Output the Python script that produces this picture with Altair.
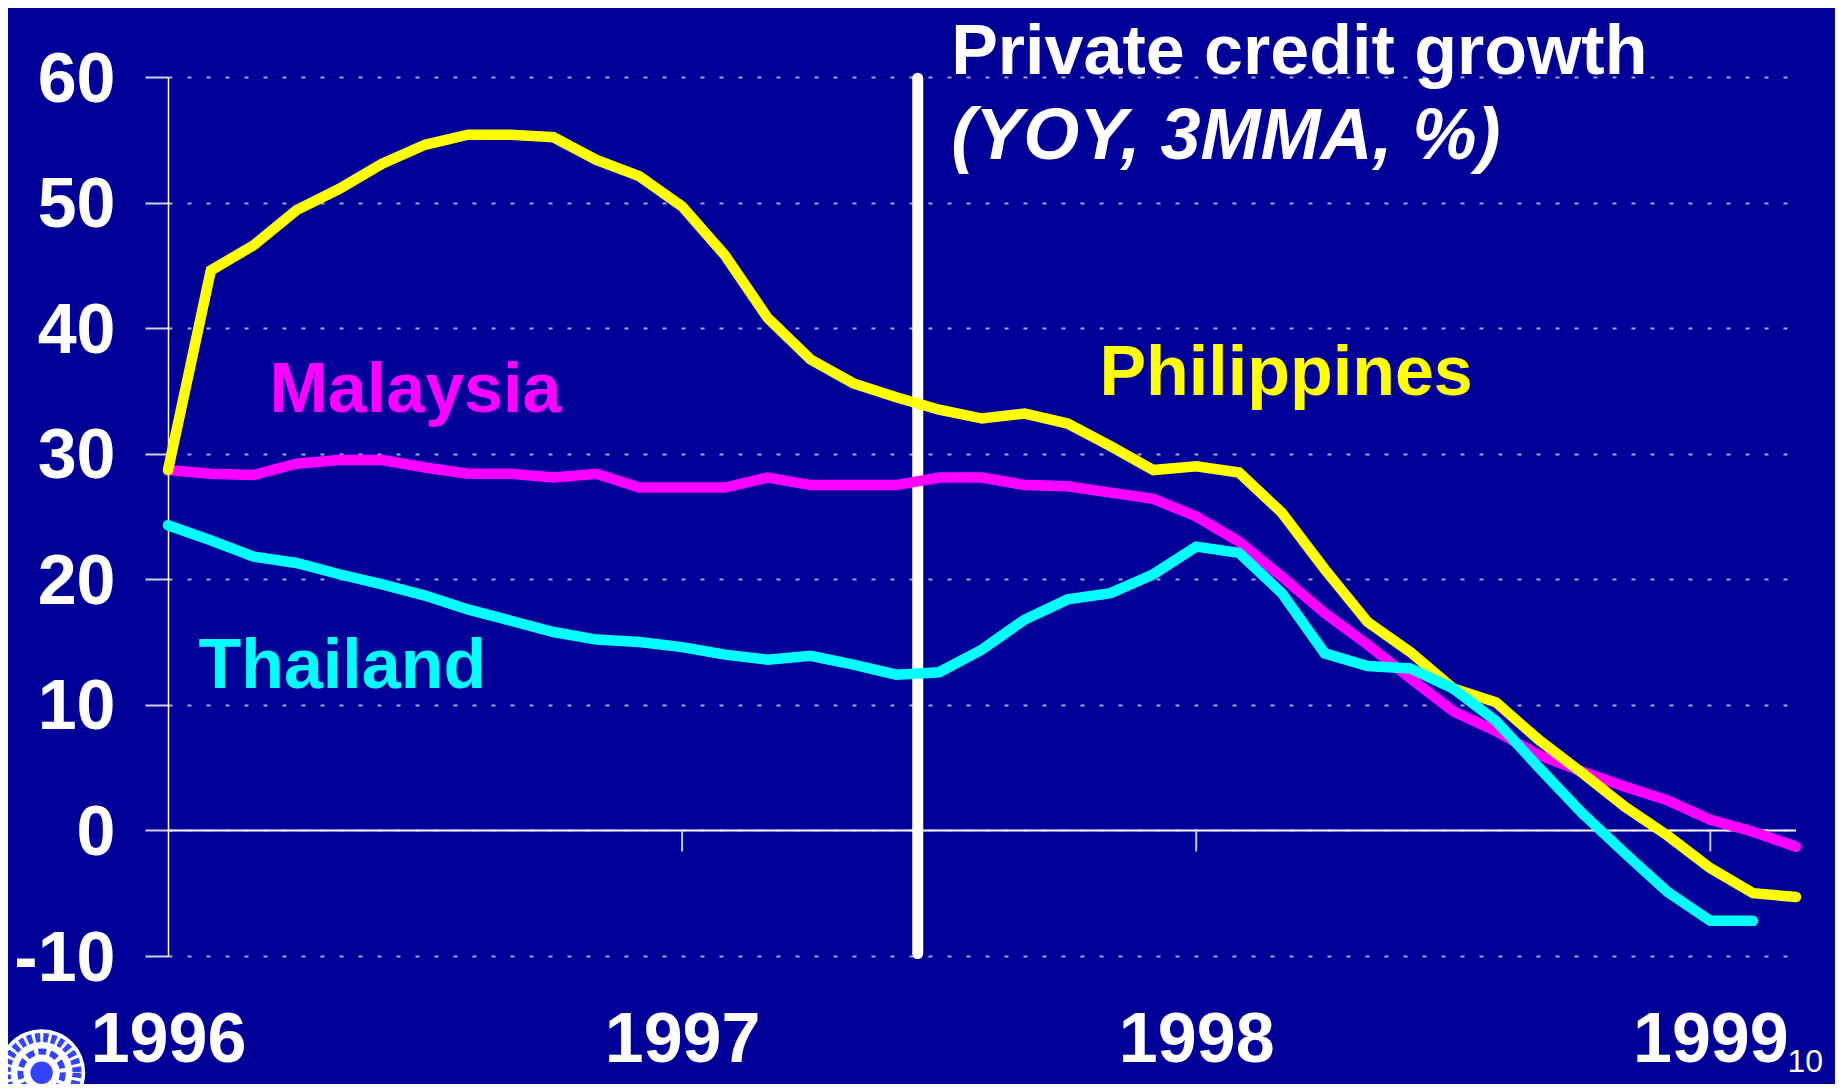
import altair as alt
import pandas as pd

# ---------------- data ----------------
months = list(range(39))               # 0 = Jan 1996 ... 38 = Mar 1999
year_months = [0, 12, 24, 36]
y_ticks = [-10, 0, 10, 20, 30, 40, 50, 60]

countries = ["Malaysia", "Philippines", "Thailand"]
colors = ["#FF00FF", "#FFFF00", "#00FFFF"]

malaysia = [28.7, 28.4, 28.3, 29.2, 29.5, 29.5, 28.9, 28.4, 28.4, 28.1,
            28.4, 27.3, 27.3, 27.3, 28.1, 27.5, 27.5, 27.5, 28.1, 28.1,
            27.5, 27.4, 26.9, 26.4, 25.0, 23.0, 20.2, 17.3, 14.8, 12.1,
            9.5, 7.9, 6.0, 4.7, 3.5, 2.4, 0.85, -0.1, -1.3]
philippines = [28.7, 44.6, 46.6, 49.4, 51.1, 53.1, 54.6, 55.4, 55.4, 55.2,
               53.4, 52.1, 49.7, 45.8, 40.8, 37.5, 35.6, 34.5, 33.5, 32.8,
               33.2, 32.4, 30.6, 28.7, 29.0, 28.5, 25.3, 20.8, 16.6, 14.2,
               11.3, 10.2, 7.2, 4.6, 1.9, -0.4, -3.0, -5.0, -5.3]
thailand = [24.3, 23.1, 21.8, 21.3, 20.4, 19.6, 18.7, 17.6, 16.7, 15.8,
            15.2, 15.0, 14.6, 14.0, 13.6, 13.9, 13.2, 12.4, 12.6, 14.4,
            16.8, 18.4, 18.9, 20.4, 22.6, 22.1, 18.9, 14.1, 13.1, 12.9,
            11.3, 8.7, 5.0, 1.4, -1.8, -4.9, -7.2, -7.2]

label_text = ["Malaysia", "Philippines", "Thailand"]
label_x = [2.37, 21.74, 0.71]
label_y = [33.3, 34.7, 11.36]

title_text = "Private credit growth"
subtitle_text = "(YOY, 3MMA, %)"
title_x = 18.28
title_y = 60.25
subtitle_y = 53.5

event_month = 17.5
slide_number = "10"

# ---------------- tables ----------------
rows = []
for name, series in zip(countries, [malaysia, philippines, thailand]):
    for m, v in zip(months, series):
        rows.append({"month": m, "value": v, "country": name})
df = pd.DataFrame(rows)

labels_df = pd.DataFrame({"x": label_x, "y": label_y, "text": label_text,
                          "country": label_text})

FONT = "Liberation Sans"
BG = "#000099"
W, H = 1628, 879

xs = alt.Scale(domain=[0, 38], nice=False, zero=False)
ys = alt.Scale(domain=[-10, 60], nice=False, zero=False)
cs = alt.Scale(domain=countries, range=colors)

X_AXIS = alt.Axis(values=year_months,
                  labelExpr="'' + (1996 + datum.value / 12)",
                  domain=False, ticks=False, grid=False,
                  labelFont=FONT, labelFontSize=70, labelFontWeight="bold",
                  labelColor="white", labelBaseline="alphabetic",
                  labelPadding=105, labelFlush=False, labelOverlap=False)
Y_AXIS = alt.Axis(values=y_ticks, labelExpr="'' + datum.value",
                  domain=True, domainColor="white",
                  domainWidth=1.5, ticks=True, tickSize=23,
                  tickColor="#d0d0e0", tickWidth=2,
                  grid=True, gridColor="#a8a8c8", gridWidth=2,
                  gridDash=[4, 15],
                  labelFont=FONT, labelFontSize=70, labelFontWeight="bold",
                  labelColor="white", labelPadding=30, labelOffset=3,
                  labelFlush=False, labelOverlap=False)


def X(field):
    return alt.X(field, scale=xs, axis=X_AXIS, title=None)


def Y(field):
    return alt.Y(field, scale=ys, axis=Y_AXIS, title=None)


lines = alt.Chart(df).mark_line(strokeWidth=10.5, strokeCap="round").encode(
    x=X("month:Q"),
    y=Y("value:Q"),
    color=alt.Color("country:N", scale=cs, legend=None),
    order=alt.Order("month:Q"),
)

zero_line = alt.Chart(pd.DataFrame({"x0": [0], "x1": [38], "y": [0]})).mark_rule(
    color="white", strokeWidth=2).encode(x=X("x0:Q"), x2="x1:Q", y=Y("y:Q"))

x_ticks = alt.Chart(pd.DataFrame({"m": year_months[1:], "y0": [0] * 3,
                                  "y1": [-1.67] * 3})).mark_rule(
    color="#c8c8e0", strokeWidth=2).encode(x=X("m:Q"), y=Y("y0:Q"), y2="y1:Q")

event_rule = alt.Chart(pd.DataFrame({"m": [event_month], "y0": [59.9],
                                     "y1": [-9.8]})).mark_rule(
    color="white", strokeWidth=11, strokeCap="round").encode(
    x=X("m:Q"), y=Y("y0:Q"), y2="y1:Q")

country_labels = alt.Chart(labels_df).mark_text(
    font=FONT, fontSize=70, fontWeight="bold", align="left",
    baseline="alphabetic").encode(
    x=X("x:Q"), y=Y("y:Q"), text="text:N",
    color=alt.Color("country:N", scale=cs, legend=None))

title_mark = alt.Chart(pd.DataFrame({"x": [title_x], "y": [title_y],
                                     "t": [title_text]})).mark_text(
    font=FONT, fontSize=70, fontWeight="bold", align="left",
    baseline="alphabetic", color="white").encode(
    x=X("x:Q"), y=Y("y:Q"), text="t:N")

subtitle_mark = alt.Chart(pd.DataFrame({"x": [title_x], "y": [subtitle_y],
                                        "t": [subtitle_text]})).mark_text(
    font=FONT, fontSize=72, fontWeight="bold", fontStyle="italic",
    align="left", baseline="alphabetic", color="white").encode(
    x=X("x:Q"), y=Y("y:Q"), text="t:N")

slide_no = alt.Chart(pd.DataFrame({"x": [37.8], "y": [-19.2],
                                   "t": [slide_number]})).mark_text(
    font=FONT, fontSize=32, align="left", baseline="alphabetic",
    color="white").encode(x=X("x:Q"), y=Y("y:Q"), text="t:N")

logo_df = pd.DataFrame({"x": [-2.95], "y": [-19.3]})
logo_outer = alt.Chart(logo_df).mark_point(
    shape="circle", filled=True, color="white", opacity=1, size=7600).encode(
    x=X("x:Q"), y=Y("y:Q"))
logo_ring = alt.Chart(logo_df).mark_point(
    shape="circle", filled=False, stroke="#3344ff", strokeWidth=9,
    strokeDash=[5, 3], opacity=1, size=5000).encode(x=X("x:Q"), y=Y("y:Q"))
logo_inner = alt.Chart(logo_df).mark_point(
    shape="circle", filled=False, stroke="#3344ff", strokeWidth=6,
    strokeDash=[8, 4], opacity=1, size=1800).encode(x=X("x:Q"), y=Y("y:Q"))
logo_core = alt.Chart(logo_df).mark_point(
    shape="circle", filled=True, color="#3344ff", opacity=1, size=500).encode(
    x=X("x:Q"), y=Y("y:Q"))

chart = alt.layer(
    zero_line, x_ticks, event_rule,
    lines,
    country_labels, title_mark, subtitle_mark, slide_no,
    logo_outer, logo_ring, logo_inner, logo_core,
).properties(
    width=W, height=H, background=BG,
    padding={"left": 160, "top": 69, "right": 39, "bottom": 128},
    autosize=alt.AutoSizeParams(type="none"),
).configure_view(stroke="transparent")

chart.save("out.html", embed_options={"renderer": "svg", "actions": False})
